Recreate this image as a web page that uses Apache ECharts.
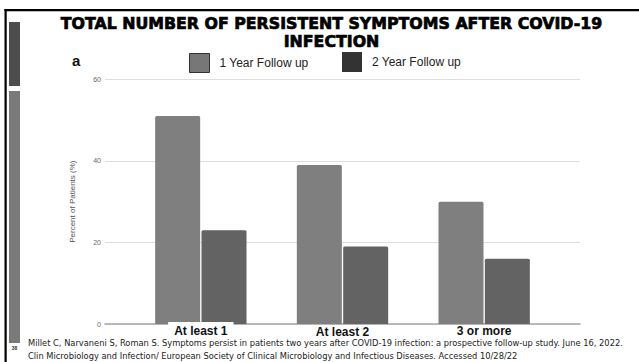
<!DOCTYPE html>
<html>
<head>
<meta charset="utf-8">
<script src="https://cdn.jsdelivr.net/npm/echarts@6/dist/echarts.min.js"></script>
<style>
  html, body { margin: 0; padding: 0; background: #fff; }
  #main { width: 639px; height: 362px; }
</style>
</head>
<body>
<div id="main"></div>
<script>
// data
var categories = ['At least 1', 'At least 2', '3 or more'];
var seriesNames = ['1 Year Follow up', '2 Year Follow up'];
var oneYear = [51, 39, 30];
var twoYear = [23, 19, 16];
var yTicks = [0, 20, 40, 60];

var titleLines = ['TOTAL NUMBER OF PERSISTENT SYMPTOMS AFTER COVID-19', 'INFECTION'];
var footnote = [
    'Millet C, Narvaneni S, Roman S. Symptoms persist in patients two years after COVID-19 infection: a prospective follow-up study. June 16, 2022.',
    'Clin Microbiology and Infection/ European Society of Clinical Microbiology and Infectious Diseases. Accessed 10/28/22'
];

var chart = echarts.init(document.getElementById('main'), null, { renderer: 'svg' });

var font = 'Liberation Sans, Arial, sans-serif';

var option = {
    animation: false,
    textStyle: { fontFamily: font },
    grid: [
        // wide grid: gridlines + y labels
        { left: 105, right: 59, top: 79.3, bottom: 38 },
        // narrow grid: the bars
        { left: 130, right: 84, top: 79.3, bottom: 38 }
    ],
    legend: [
        {
            left: 189, top: 53, padding: 0,
            itemWidth: 20, itemHeight: 19,
            selectedMode: false,
            textStyle: { fontSize: 12, color: '#222', padding: [0, 0, 0, 5] },
            data: [{ name: seriesNames[0], icon: 'rect',
                     itemStyle: { color: '#777', borderColor: '#333', borderWidth: 1 } }]
        },
        {
            left: 342, top: 52, padding: 0,
            itemWidth: 20, itemHeight: 20,
            selectedMode: false,
            textStyle: { fontSize: 12, color: '#222', padding: [0, 0, 4, 5] },
            data: [{ name: seriesNames[1], icon: 'rect', itemStyle: { color: '#333' } }]
        }
    ],
    xAxis: [
        {
            gridIndex: 0, type: 'value', min: 0, max: 1,
            axisLine: { show: true, lineStyle: { color: '#a6a6a6', width: 1.5 } },
            axisTick: { show: false },
            axisLabel: { show: false },
            splitLine: { show: false }
        },
        {
            gridIndex: 1, type: 'category', data: categories, z: 5,
            axisLine: { show: false },
            axisTick: { show: false },
            axisLabel: {
                margin: 0,
                formatter: function (v, i) {
                    return i === 0 ? '{a|' + v + '}' : (i === 1 ? '{b|' + v + '}' : '{c|' + v + '}');
                },
                rich: {
                    a: { fontSize: 12, lineHeight: 11, fontWeight: 'bold', color: '#111', backgroundColor: '#fff', padding: [3, 6, 0, 6] },
                    b: { fontSize: 12, lineHeight: 11, fontWeight: 'bold', color: '#111', padding: [4.5, 0, 0, 0] },
                    c: { fontSize: 12, lineHeight: 11, fontWeight: 'bold', color: '#111', padding: [3, 0, 0, 0] }
                }
            }
        }
    ],
    yAxis: [
        {
            gridIndex: 0, type: 'value',
            min: yTicks[0], max: yTicks[yTicks.length - 1], interval: 20,
            name: 'Percent of Patients (%)',
            nameLocation: 'middle', nameGap: 29,
            nameTextStyle: { fontSize: 8, color: '#555' },
            axisLine: { show: false },
            axisTick: { show: false },
            axisLabel: { fontSize: 7, color: '#666', margin: 4 },
            splitLine: { lineStyle: { color: '#dedede', width: 1 } }
        },
        {
            gridIndex: 1, type: 'value', min: 0, max: 60, show: false,
            splitLine: { show: false }
        }
    ],
    series: [
        {
            name: seriesNames[0], type: 'bar', xAxisIndex: 1, yAxisIndex: 1,
            barWidth: 45, barGap: '3%',
            itemStyle: { color: '#7f7f7f', borderRadius: [1.5, 1.5, 0, 0] },
            data: oneYear
        },
        {
            name: seriesNames[1], type: 'bar', xAxisIndex: 1, yAxisIndex: 1,
            barWidth: 45, barGap: '3%',
            itemStyle: { color: '#636363', borderRadius: [1.5, 1.5, 0, 0] },
            data: twoYear
        }
    ],
    graphic: [
        // slide frame and side bars
        { type: 'rect', shape: { x: 4.5, y: 9, width: 640, height: 2.2 }, style: { fill: '#000' }, silent: true },
        { type: 'rect', shape: { x: 4.5, y: 9, width: 2.2, height: 360 }, style: { fill: '#000' }, silent: true },
        { type: 'rect', shape: { x: 9, y: 22, width: 11, height: 64 }, style: { fill: '#4d4d4d' }, silent: true },
        { type: 'rect', shape: { x: 9, y: 91, width: 11, height: 252 }, style: { fill: '#7a7a7a' }, silent: true },
        { type: 'text', x: 14.5, y: 348, silent: true,
          style: { text: '38', fontSize: 5, fontWeight: 'bold', fill: '#333', textAlign: 'center', textVerticalAlign: 'middle' } },
        // title
        { type: 'text', x: 331.5, y: 23.5, silent: true,
          style: { text: titleLines[0], fontFamily: 'DejaVu Sans', fontWeight: 'bold', fontSize: 15.8, fill: '#000',
                   stroke: '#000', lineWidth: 0.7, textAlign: 'center', textVerticalAlign: 'middle' } },
        { type: 'text', x: 331.5, y: 41.5, silent: true,
          style: { text: titleLines[1], fontFamily: 'DejaVu Sans', fontWeight: 'bold', fontSize: 15.8, fill: '#000',
                   stroke: '#000', lineWidth: 0.7, textAlign: 'center', textVerticalAlign: 'middle' } },
        { type: 'text', x: 72, y: 60, silent: true,
          style: { text: 'a', fontFamily: font, fontWeight: 'bold', fontSize: 15, fill: '#111',
                   textAlign: 'left', textVerticalAlign: 'middle' } },
        // source
        { type: 'text', x: 28, y: 343, silent: true,
          style: { text: footnote[0], fontFamily: 'DejaVu Sans', fontSize: 8.3, fill: '#222',
                   textAlign: 'left', textVerticalAlign: 'middle' } },
        { type: 'text', x: 28, y: 356, silent: true,
          style: { text: footnote[1], fontFamily: 'DejaVu Sans', fontSize: 8.3, fill: '#222',
                   textAlign: 'left', textVerticalAlign: 'middle' } }
    ]
};

chart.setOption(option);
</script>
</body>
</html>
